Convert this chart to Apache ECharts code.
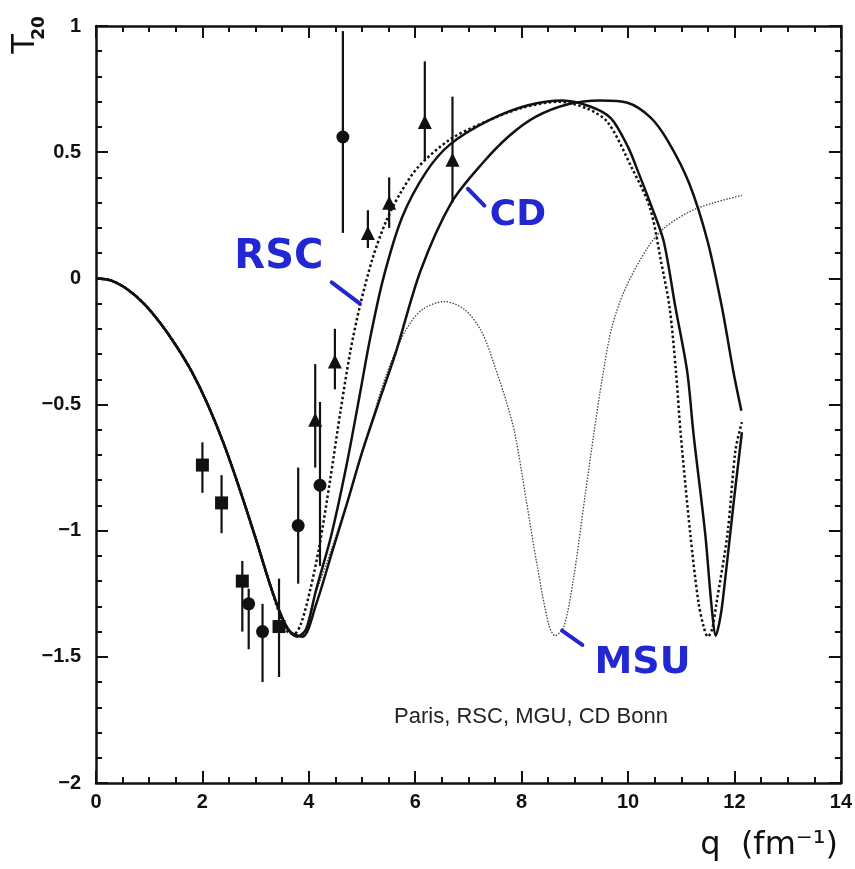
<!DOCTYPE html>
<html>
<head>
  <meta charset="utf-8">
  <title>T20</title>
  <script src="https://cdn.jsdelivr.net/npm/echarts@6/dist/echarts.min.js"></script>
  <style>
    html, body { margin: 0; padding: 0; background: #fff; }
    #main { width: 855px; height: 869px; }
  </style>
</head>
<body>
  <div id="main"></div>
  <script>
    // falling part shared by all four potentials
    var descent = [[0, 0], [0.3, -0.01], [0.6, -0.045], [0.9, -0.1], [1.2, -0.175], [1.5, -0.265], [1.8, -0.37],
      [2.1, -0.5], [2.4, -0.655], [2.7, -0.835], [3.0, -1.03], [3.25, -1.2]];

    var rsc = descent.concat([[3.45, -1.33], [3.6, -1.40], [3.72, -1.41], [3.85, -1.37], [4.02, -1.24], [4.2, -1.06],
      [4.4, -0.80], [4.6, -0.52], [4.78, -0.29], [4.96, -0.11], [5.2, 0.08], [5.44, 0.22], [5.7, 0.33], [6.05, 0.44],
      [6.65, 0.55], [7.26, 0.615], [8.0, 0.675], [8.7, 0.70], [9.24, 0.672], [9.62, 0.618], [10.07, 0.438],
      [10.41, 0.281], [10.62, 0.067], [10.78, -0.115], [10.9, -0.368], [10.99, -0.618], [11.17, -1.014],
      [11.32, -1.28], [11.42, -1.38], [11.5, -1.42], [11.58, -1.39], [11.66, -1.29], [11.87, -1.01],
      [12.02, -0.68], [12.14, -0.57]]);

    var paris = descent.concat([[3.45, -1.32], [3.6, -1.39], [3.78, -1.42], [3.95, -1.39], [4.13, -1.24],
      [4.42, -1.02], [4.7, -0.75], [4.95, -0.47], [5.15, -0.24], [5.4, 0.0], [5.75, 0.24],
      [6.2, 0.42], [6.65, 0.53], [7.39, 0.627], [8.12, 0.686], [8.77, 0.705], [9.3, 0.68], [9.68, 0.634],
      [10.0, 0.52], [10.21, 0.411], [10.45, 0.28], [10.67, 0.147], [10.89, -0.114], [11.11, -0.367],
      [11.23, -0.616], [11.45, -1.012], [11.57, -1.3], [11.65, -1.416], [11.72, -1.36], [11.78, -1.277],
      [11.99, -0.879], [12.14, -0.61]]);

    var cdBonn = descent.concat([[3.45, -1.32], [3.65, -1.40], [3.88, -1.42], [4.14, -1.29], [4.43, -1.09],
      [4.72, -0.89], [5.0, -0.69], [5.3, -0.50], [5.64, -0.29], [6.1, 0.03], [6.68, 0.30],
      [7.28, 0.46], [7.77, 0.565], [8.26, 0.64], [8.87, 0.69], [9.48, 0.705], [9.99, 0.696], [10.42, 0.638],
      [10.75, 0.544], [11.15, 0.376], [11.49, 0.151], [11.76, -0.11], [11.98, -0.37], [12.13, -0.525]]);

    var msu = descent.concat([[3.45, -1.32], [3.65, -1.40], [3.85, -1.42], [4.08, -1.28], [4.43, -1.07],
      [4.78, -0.85], [5.12, -0.61], [5.46, -0.38], [5.81, -0.21], [6.12, -0.126], [6.54, -0.092], [6.92, -0.122],
      [7.25, -0.212], [7.51, -0.358], [7.71, -0.487], [7.88, -0.622], [8.08, -0.871], [8.29, -1.136],
      [8.51, -1.373], [8.63, -1.416], [8.79, -1.383], [8.97, -1.196], [9.19, -0.865], [9.35, -0.626],
      [9.52, -0.39], [9.7, -0.19], [9.95, -0.04], [10.37, 0.122], [10.70, 0.203], [11.29, 0.277], [12.14, 0.329]]);

    // measured points: [q, T20, lower end, upper end]
    var squares = [[2.0, -0.74, -0.85, -0.65], [2.36, -0.89, -1.01, -0.78], [2.75, -1.2, -1.4, -1.12],
      [3.44, -1.38, -1.58, -1.19]];
    var circles = [[2.87, -1.29, -1.47, -1.23], [3.13, -1.4, -1.6, -1.29], [3.8, -0.98, -1.21, -0.75],
      [4.21, -0.82, -1.14, -0.49], [4.64, 0.56, 0.18, 0.98]];
    var triangles = [[4.12, -0.56, -0.75, -0.34], [4.49, -0.33, -0.44, -0.2], [5.11, 0.18, 0.12, 0.27],
      [5.51, 0.3, 0.2, 0.4], [6.18, 0.62, 0.47, 0.86], [6.7, 0.47, 0.3, 0.72]];

    // hand written names and where their strokes point
    var notes = [
      { text: 'RSC', at: [2.6, 0.16], from: [4.43, -0.016], to: [4.96, -0.10], size: 40 },
      { text: 'CD', at: [7.4, 0.32], from: [6.99, 0.355], to: [7.30, 0.288], size: 36 },
      { text: 'MSU', at: [9.37, -1.45], from: [8.76, -1.396], to: [9.14, -1.453], size: 38 }
    ];

    var ink = '#111';
    var blue = '#2327d2';

    function axisCommon(labels) {
      return {
        type: 'value',
        axisLine: { show: true, onZero: false, lineStyle: { color: ink, width: 2.5 } },
        axisTick: { show: true, inside: true, length: 12, lineStyle: { color: ink, width: 2 } },
        minorTick: { show: true, length: 6, lineStyle: { color: ink, width: 2 } },
        splitLine: { show: false },
        minorSplitLine: { show: false },
        axisLabel: {
          show: labels, color: ink, fontFamily: 'Liberation Sans', fontWeight: 'bold', fontSize: 20,
          formatter: function (v) { return String(v).replace('-', '\u2212'); }
        }
      };
    }

    function xAxisAt(pos, labels) {
      var a = axisCommon(labels);
      a.position = pos; a.min = 0; a.max = 14; a.interval = 2;
      a.minorTick.splitNumber = 4;
      a.axisLabel.margin = 9;
      return a;
    }

    function yAxisAt(pos, labels) {
      var a = axisCommon(labels);
      a.position = pos; a.min = -2; a.max = 1; a.interval = 0.5;
      a.minorTick.splitNumber = 5;
      a.axisLabel.margin = 15;
      return a;
    }

    function curve(name, data, style) {
      return { name: name, type: 'line', data: data, showSymbol: false, smooth: 0.3, lineStyle: style, z: 3 };
    }

    function errorBars(rows) {
      return {
        type: 'custom', data: rows, silent: true, z: 4,
        encode: { x: 0, y: [1, 2, 3] },
        renderItem: function (params, api) {
          var hi = api.coord([api.value(0), api.value(3)]);
          var lo = api.coord([api.value(0), api.value(2)]);
          return { type: 'line', shape: { x1: hi[0], y1: hi[1], x2: lo[0], y2: lo[1] },
            style: { stroke: ink, lineWidth: 2.2 } };
        }
      };
    }

    function points(rows, symbol, size) {
      return { type: 'scatter', data: rows, symbol: symbol, symbolSize: size, encode: { x: 0, y: 1 },
        itemStyle: { color: ink, opacity: 1 }, z: 5 };
    }

    var option = {
      animation: false,
      backgroundColor: '#fff',
      grid: { left: 96, right: 7, top: 26, bottom: 86 },
      xAxis: [xAxisAt('bottom', true), xAxisAt('top', false)],
      yAxis: [yAxisAt('left', true), yAxisAt('right', false)],
      series: [
        curve('MSU', msu, { color: '#444', width: 1.3, type: [1.5, 1.5] }),
        curve('CD Bonn', cdBonn, { color: ink, width: 2.5 }),
        curve('Paris', paris, { color: ink, width: 2.5 }),
        curve('RSC', rsc, { color: ink, width: 2.5, type: [2.5, 2.5] }),
        errorBars(squares), errorBars(circles), errorBars(triangles),
        points(squares, 'rect', 13),
        points(circles, 'circle', 13),
        points(triangles, 'triangle', 14)
      ]
    };

    var chart = echarts.init(document.getElementById('main'));
    chart.setOption(option);

    function toPx(p) { return chart.convertToPixel({ xAxisIndex: 0, yAxisIndex: 0 }, p); }

    var graphics = [];
    notes.forEach(function (n) {
      var p = toPx(n.at), a = toPx(n.from), b = toPx(n.to);
      graphics.push({ type: 'text', x: p[0], y: p[1], z: 10,
        style: { text: n.text, fill: blue, font: 'bold ' + n.size + 'px "DejaVu Sans"', align: 'left', verticalAlign: 'top' } });
      graphics.push({ type: 'line', z: 10, shape: { x1: a[0], y1: a[1], x2: b[0], y2: b[1] },
        style: { stroke: blue, lineWidth: 4, lineCap: 'round' } });
    });

    var cap = toPx([10.75, -1.74]);
    graphics.push({ type: 'text', x: cap[0], y: cap[1], z: 10,
      style: { text: 'Paris, RSC, MGU, CD Bonn', fill: '#222', font: '22px "Liberation Sans"', align: 'right', verticalAlign: 'middle' } });

    // axis titles
    graphics.push({ type: 'text', x: 26, y: 44, rotation: Math.PI / 2, z: 10,
      style: { text: 'T', fill: ink, font: '32px "DejaVu Sans"', align: 'center', verticalAlign: 'middle' } });
    graphics.push({ type: 'text', x: 40, y: 28, rotation: Math.PI / 2, z: 10,
      style: { text: '20', fill: ink, font: 'bold 17px "DejaVu Sans"', align: 'center', verticalAlign: 'middle' } });
    graphics.push({ type: 'text', x: 838, y: 846, z: 10,
      style: { text: 'q  (fm\u207B\u00B9)', fill: ink, font: '32px "DejaVu Sans"', align: 'right', verticalAlign: 'middle' } });

    chart.setOption({ graphic: graphics });
  </script>
</body>
</html>
